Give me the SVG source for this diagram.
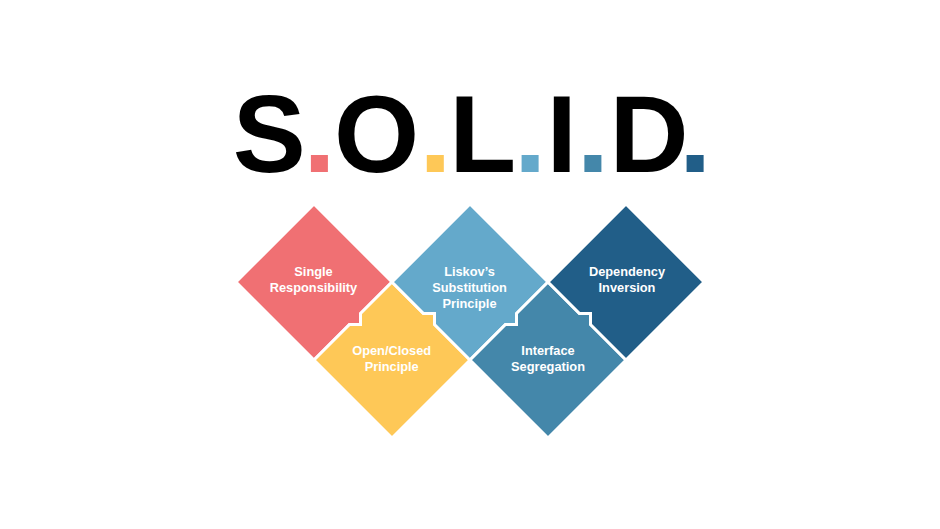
<svg xmlns="http://www.w3.org/2000/svg" width="940" height="529" viewBox="0 0 940 529">
  <style>
    .title { font-family: "Liberation Sans", Arial, Helvetica, sans-serif; font-weight: bold; font-size: 109.5px; fill: #000000; }
    .tile { stroke: #ffffff; stroke-width: 3; stroke-linejoin: miter; }
    .lbl { font-family: "Liberation Sans", Arial, Helvetica, sans-serif; font-weight: bold; font-size: 12.8px; fill: #ffffff; text-anchor: middle; }
    .c1 { fill: #F07073; }
    .c2 { fill: #FEC857; }
    .c3 { fill: #64A9CB; }
    .c4 { fill: #4487AA; }
    .c5 { fill: #215E88; }
  </style>
  <rect x="0" y="0" width="940" height="529" fill="#ffffff"/>

  <g id="title">
    <text class="title" x="269.2 376.7 482.8 561.7 649" y="171.7" text-anchor="middle">SOLID</text>
    <rect class="c1" x="310.9" y="155" width="17" height="17"/>
    <rect class="c2" x="426.8" y="155" width="17" height="17"/>
    <rect class="c3" x="521.6" y="155" width="17" height="17"/>
    <rect class="c4" x="584.4" y="155" width="17" height="17"/>
    <rect class="c5" x="686.6" y="155" width="17" height="17"/>
  </g>

  <g id="connectors"></g>

  <g id="single-responsibility">
    <path class="tile c1" d="M236,282 L314,204 L392,282 L360.5,313.5 L360.5,324.5 L349.5,324.5 L314,360 Z"/>
    <text class="lbl" x="313.5" y="276">Single</text>
    <text class="lbl" x="313.5" y="292">Responsibility</text>
  </g>

  <g id="open-closed">
    <path class="tile c2" d="M392,282 L423.5,313.5 L434.5,313.5 L434.5,324.5 L470,360 L392,438 L314,360 L349.5,324.5 L360.5,324.5 L360.5,313.5 Z"/>
    <text class="lbl" x="391.7" y="355">Open/Closed</text>
    <text class="lbl" x="391.7" y="371">Principle</text>
  </g>

  <g id="liskov-substitution">
    <path class="tile c3" d="M392,282 L470,204 L548,282 L516.5,313.5 L516.5,324.5 L505.5,324.5 L470,360 L434.5,324.5 L434.5,313.5 L423.5,313.5 Z"/>
    <text class="lbl" x="469.5" y="276">Liskov’s</text>
    <text class="lbl" x="469.5" y="292">Substitution</text>
    <text class="lbl" x="469.5" y="308">Principle</text>
  </g>

  <g id="interface-segregation">
    <path class="tile c4" d="M548,282 L579.5,313.5 L590.5,313.5 L590.5,324.5 L626,360 L548,438 L470,360 L505.5,324.5 L516.5,324.5 L516.5,313.5 Z"/>
    <text class="lbl" x="548" y="355">Interface</text>
    <text class="lbl" x="548" y="371">Segregation</text>
  </g>

  <g id="dependency-inversion">
    <path class="tile c5" d="M548,282 L626,204 L704,282 L626,360 L590.5,324.5 L590.5,313.5 L579.5,313.5 Z"/>
    <text class="lbl" x="627" y="276">Dependency</text>
    <text class="lbl" x="627" y="292">Inversion</text>
  </g>
</svg>
